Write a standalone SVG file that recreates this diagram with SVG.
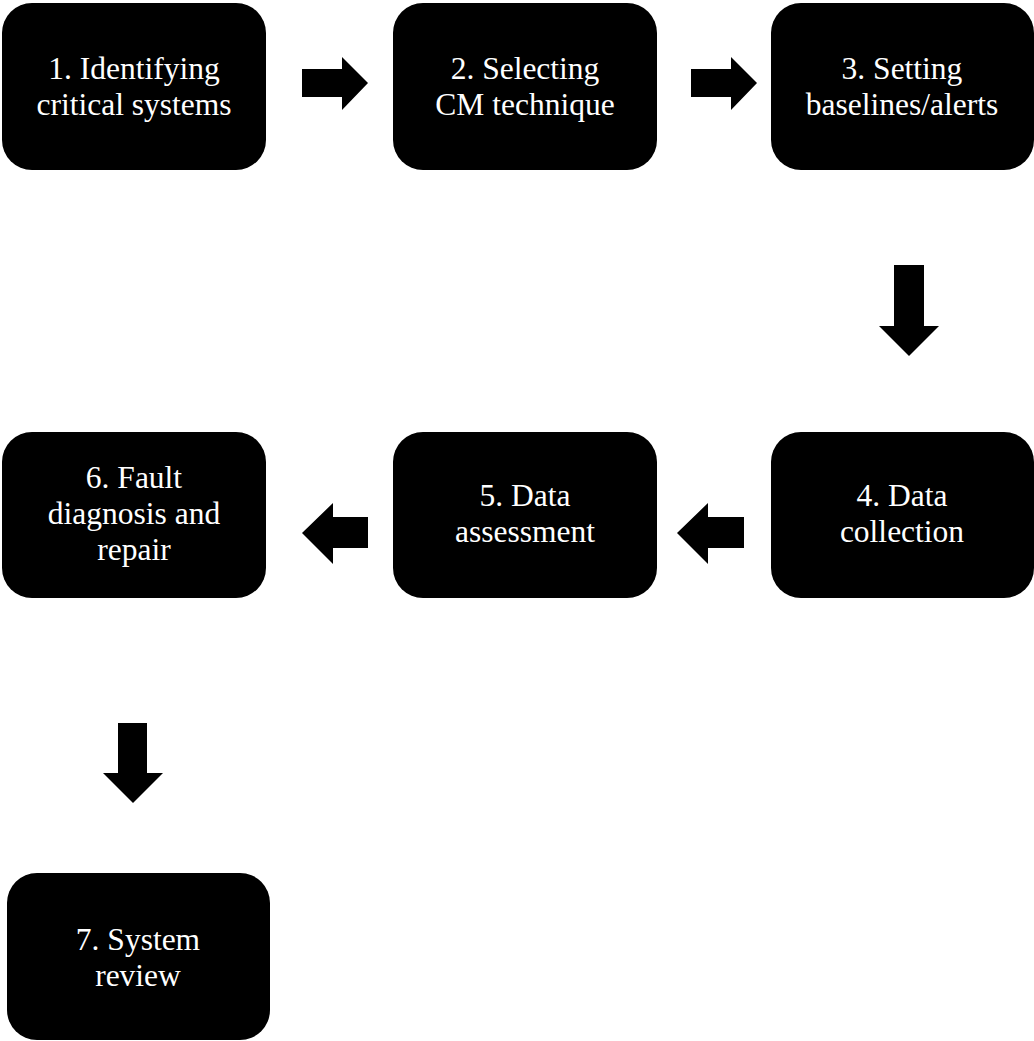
<svg xmlns="http://www.w3.org/2000/svg" width="1034" height="1041" viewBox="0 0 1034 1041">
  <style>
    .box { fill: #000; }
    text.lbl { fill: #fff; font-family: 'Liberation Serif', 'DejaVu Serif', serif; font-size: 31.5px; text-anchor: middle; }
    .arrow { fill: #000; }
  </style>
  <rect width="1034" height="1041" fill="#fff"/>

  <!-- block arrows between steps -->
  <g id="connectors">
    <path class="arrow" d="M302,69 H342 V57 L368,83 L342,110 V97 H302 Z"/>
    <path class="arrow" d="M691,69 H731 V57 L757,83 L731,110 V97 H691 Z"/>
    <path class="arrow" d="M894,265 H924 V326 H939 L909,356 L879,326 H894 Z"/>
    <path class="arrow" d="M744,517 H708 V503 L677,533 L708,564 V548 H744 Z"/>
    <path class="arrow" d="M368,517 H333 V503 L302,533 L333,564 V548 H368 Z"/>
    <path class="arrow" d="M118,723 H147 V773 H163 L133,803 L103,773 H118 Z"/>
  </g>

  <g id="step1">
    <rect class="box" x="2" y="3" width="264" height="167" rx="30"/>
    <text class="lbl" font-family="Liberation Serif" x="134" y="79">1. Identifying</text>
    <text class="lbl" font-family="Liberation Serif" x="134" y="115">critical systems</text>
  </g>
  <g id="step2">
    <rect class="box" x="393" y="3" width="264" height="167" rx="30"/>
    <text class="lbl" font-family="Liberation Serif" x="525" y="79">2. Selecting</text>
    <text class="lbl" font-family="Liberation Serif" x="525" y="115">CM technique</text>
  </g>
  <g id="step3">
    <rect class="box" x="771" y="3" width="263" height="167" rx="30"/>
    <text class="lbl" font-family="Liberation Serif" x="902" y="79">3. Setting</text>
    <text class="lbl" font-family="Liberation Serif" x="902" y="115">baselines/alerts</text>
  </g>
  <g id="step4">
    <rect class="box" x="771" y="432" width="263" height="166" rx="30"/>
    <text class="lbl" font-family="Liberation Serif" x="902" y="506">4. Data</text>
    <text class="lbl" font-family="Liberation Serif" x="902" y="542">collection</text>
  </g>
  <g id="step5">
    <rect class="box" x="393" y="432" width="264" height="166" rx="30"/>
    <text class="lbl" font-family="Liberation Serif" x="525" y="506">5. Data</text>
    <text class="lbl" font-family="Liberation Serif" x="525" y="542">assessment</text>
  </g>
  <g id="step6">
    <rect class="box" x="2" y="432" width="264" height="166" rx="30"/>
    <text class="lbl" font-family="Liberation Serif" x="134" y="488">6. Fault</text>
    <text class="lbl" font-family="Liberation Serif" x="134" y="524">diagnosis and</text>
    <text class="lbl" font-family="Liberation Serif" x="134" y="560">repair</text>
  </g>
  <g id="step7">
    <rect class="box" x="7" y="873" width="263" height="167" rx="30"/>
    <text class="lbl" font-family="Liberation Serif" x="138" y="950">7. System</text>
    <text class="lbl" font-family="Liberation Serif" x="138" y="986">review</text>
  </g>
</svg>
